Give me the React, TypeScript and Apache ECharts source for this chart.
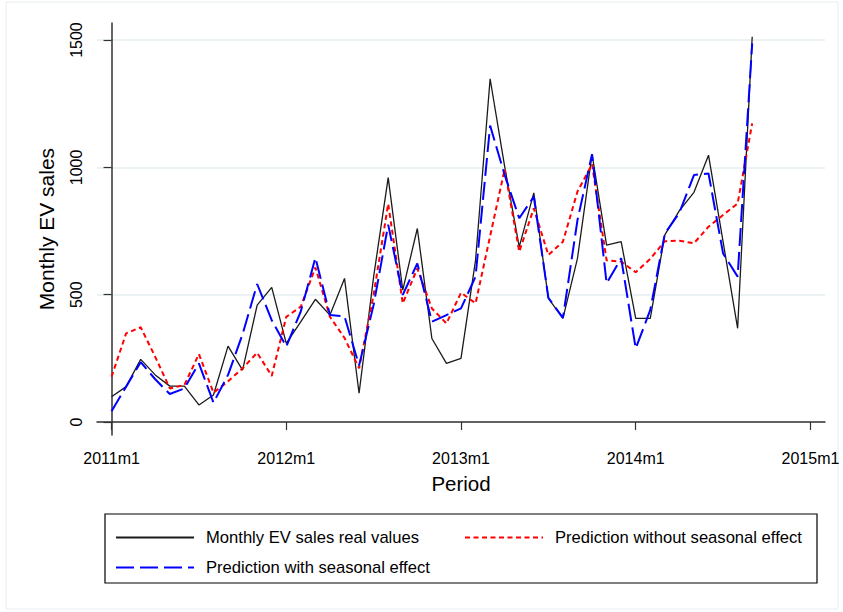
import React, { useEffect, useRef } from "react";
import * as echarts from "echarts";

// Monthly EV sales, 2011m1 .. 2014m9 (45 months)
const startYear = 2011;
const realValues = [
  99, 139, 246, 185, 141, 141, 67, 106, 298, 204, 459, 529,
  309, 394, 482, 420, 564, 113, 571, 960, 518, 760, 328, 230,
  250, 636, 1348, 1003, 688, 900, 486, 407, 643, 1052, 695, 708,
  407, 407, 735, 830, 902, 1048, 708, 368, 1513,
];
const predNoSeason = [
  178, 348, 372, 256, 132, 145, 267, 115, 160, 211, 272, 181,
  413, 453, 607, 413, 330, 211, 500, 857, 466, 603, 446, 387,
  508, 466, 730, 993, 669, 839, 656, 708, 905, 1012, 635, 630,
  588, 641, 710, 712, 702, 767, 813, 858, 1173,
];
const predSeason = [
  42, 139, 235, 168, 110, 132, 230, 76, 185, 345, 542, 400,
  296, 435, 645, 420, 415, 222, 460, 775, 499, 623, 394, 420,
  446, 571, 1164, 970, 800, 885, 488, 409, 793, 1052, 545, 643,
  289, 440, 740, 822, 970, 976, 662, 571, 1487,
];
const seriesNames = [
  "Monthly EV sales real values",
  "Prediction without seasonal effect",
  "Prediction with seasonal effect",
];
const xTickValues = [0, 12, 24, 36, 48];
const xTickLabels = ["2011m1", "2012m1", "2013m1", "2014m1", "2015m1"];
const yTickValues = [0, 500, 1000, 1500];
const yTickLabels = ["0", "500", "1000", "1500"];

const FONT = "'Liberation Sans', Arial, sans-serif";

export default function App() {
  const ref = useRef<HTMLDivElement>(null);
  useEffect(() => {
    if (!ref.current) return;
    const chart = echarts.init(ref.current, null, { renderer: "svg" });
    const toPts = (arr: number[]) => arr.map((v, i) => [i, v]);
    const legendBase = {
      orient: "horizontal",
      padding: 0,
      itemWidth: 78,
      itemHeight: 14,
      itemStyle: { color: "transparent", borderWidth: 0, opacity: 0 },
      textStyle: { fontSize: 16.6, fontFamily: FONT, color: "#000", padding: [0, 0, 0, 7] },
    };
    chart.setOption({
      animation: false,
      backgroundColor: "#fff",
      grid: { left: 97, right: 18, top: 23, bottom: 177, containLabel: false },
      xAxis: {
        type: "value",
        min: -1,
        max: 49,
        name: "Period",
        nameLocation: "middle",
        nameGap: 38,
        nameTextStyle: { fontSize: 20.5, fontFamily: FONT, color: "#000" },
        axisLine: { show: true, lineStyle: { color: "#333", width: 1.5 } },
        axisTick: { show: true, length: 8, lineStyle: { color: "#333", width: 1.2 }, customValues: xTickValues },
        axisLabel: {
          customValues: xTickValues,
          margin: 15,
          fontSize: 16,
          fontFamily: FONT,
          color: "#000",
          formatter: (v: number) => xTickLabels[xTickValues.indexOf(v)] ?? `${startYear + v / 12}m1`,
        },
        splitLine: { show: false },
      },
      yAxis: {
        type: "value",
        min: -51,
        max: 1567,
        name: "Monthly EV sales",
        nameLocation: "middle",
        nameGap: 40,
        nameTextStyle: { fontSize: 21, fontFamily: FONT, color: "#000" },
        axisLine: { show: true, lineStyle: { color: "#333", width: 1.5 } },
        axisTick: { show: true, length: 8, lineStyle: { color: "#333", width: 1.2 }, customValues: yTickValues },
        axisLabel: {
          customValues: yTickValues,
          rotate: 90,
          margin: 13,
          fontSize: 16,
          fontFamily: FONT,
          color: "#000",
          formatter: (v: number) => yTickLabels[yTickValues.indexOf(v)] ?? String(v),
        },
        splitLine: { show: true, lineStyle: { color: "#e4eef0", width: 1.5 } },
      },
      legend: [
        { ...legendBase, data: [seriesNames[0]], left: 115, top: 529 },
        { ...legendBase, data: [seriesNames[1]], left: 464, top: 529 },
        { ...legendBase, data: [seriesNames[2]], left: 115, top: 559 },
      ],
      graphic: [
        {
          type: "rect",
          shape: { x: 105, y: 514, width: 712, height: 69 },
          style: { fill: "none", stroke: "#000", lineWidth: 1.2 },
          silent: true,
        },
        {
          type: "rect",
          shape: { x: 6, y: 2, width: 832, height: 607 },
          style: { fill: "none", stroke: "#e6eef0", lineWidth: 1 },
          silent: true,
          z: -10,
        },
      ],
      series: [
        {
          name: seriesNames[0],
          type: "line",
          data: toPts(realValues),
          symbol: "none",
          lineStyle: { color: "#1a1a1a", width: 1.3, type: "solid" },
          itemStyle: { color: "#1a1a1a" },
          z: 2,
        },
        {
          name: seriesNames[1],
          type: "line",
          data: toPts(predNoSeason),
          symbol: "none",
          lineStyle: { color: "#ff0000", width: 2, type: [5, 3.5] },
          itemStyle: { color: "#ff0000" },
          z: 3,
        },
        {
          name: seriesNames[2],
          type: "line",
          data: toPts(predSeason),
          symbol: "none",
          lineStyle: { color: "#0000ff", width: 2, type: [18, 6] },
          itemStyle: { color: "#0000ff" },
          z: 4,
        },
      ],
    });
    return () => chart.dispose();
  }, []);
  return (
    <div
      ref={ref}
      style={{ position: "fixed", left: 0, top: 0, width: 843, height: 612 }}
    />
  );
}
